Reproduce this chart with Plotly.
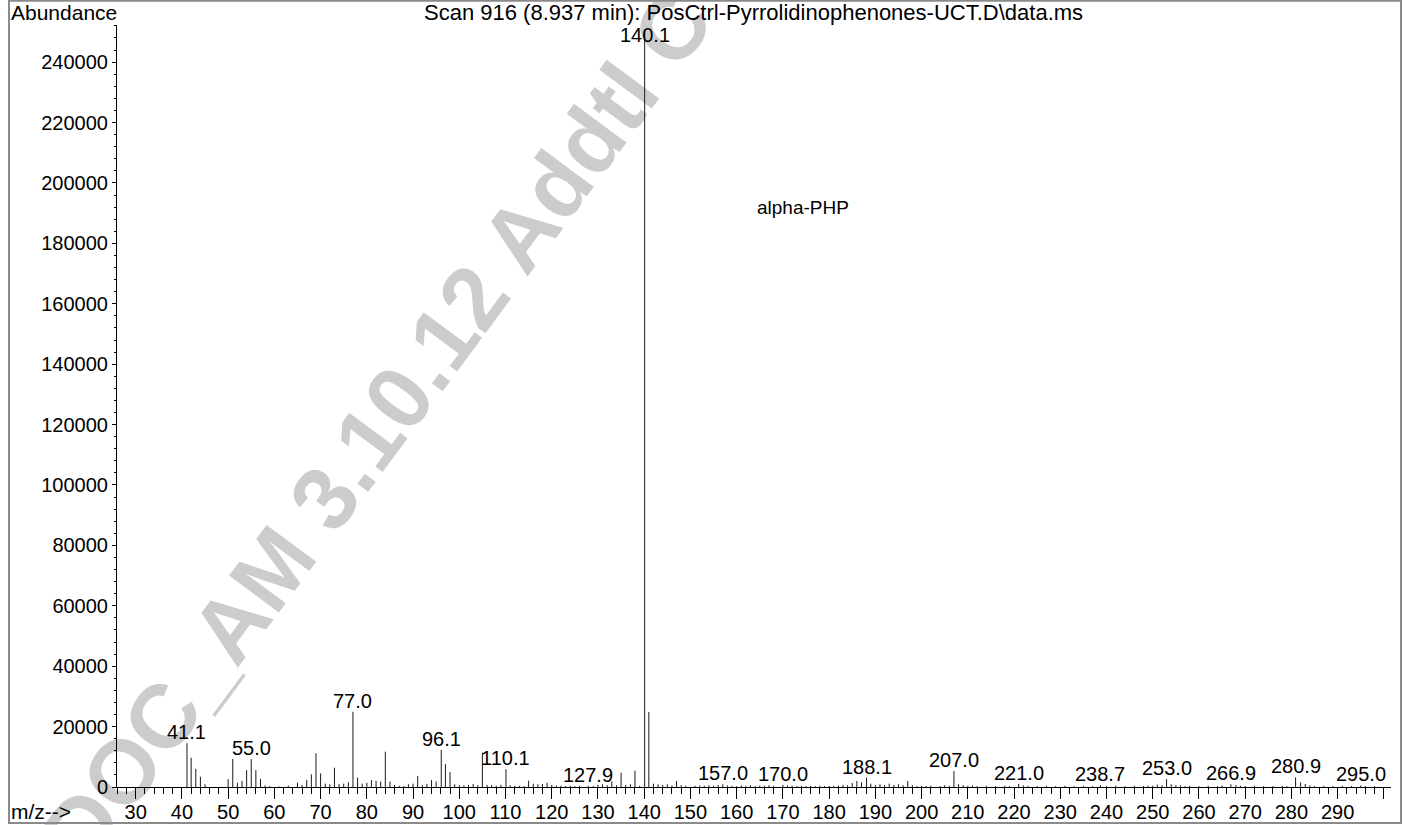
import plotly.graph_objects as go

# ---------------- data ----------------
mz = [41.1, 42, 43, 44, 45, 50, 51, 52, 53, 54, 55.0, 56, 57, 58, 59, 61, 63, 65, 66, 67,
      68, 69, 70, 71, 72, 73, 74, 75, 76, 77.0, 78, 79, 80, 81, 82, 83, 84, 85, 86, 87,
      88, 89, 90, 91, 92, 93, 94, 95, 96.1, 97, 98, 99, 100, 101, 102, 103, 104, 105, 106, 107,
      108, 109, 110.1, 111, 112, 113, 114, 115, 116, 117, 118, 119, 120, 121, 122, 123, 124, 125, 126, 127.9,
      129, 130, 131, 132, 133, 134, 135, 136, 137, 138, 139, 140.1, 141, 142, 143, 144, 145, 146, 147, 148,
      149, 151, 152, 153, 154, 155, 156, 157.0, 158, 159, 160, 161, 162, 163, 164, 165, 166, 167, 168, 170.0,
      171, 172, 173, 174, 175, 176, 177, 178, 179, 180, 181, 182, 183, 184, 185, 186, 187, 188.1, 189, 190,
      191, 192, 193, 194, 195, 196, 197, 198, 199, 200, 201, 202, 204, 205, 206, 207.0, 208, 209, 210, 211,
      212, 214, 216, 218, 219, 221.0, 222, 223, 225, 227, 229, 231, 233, 235, 237, 238.7, 240, 242, 244, 246,
      248, 249, 250, 251, 252, 253.0, 254, 255, 256, 257, 258, 260, 262, 264, 265, 266.9, 268, 269, 270, 272,
      274, 276, 278, 279, 280.9, 282, 283, 284, 285, 287, 289, 291, 293, 295.0, 296, 298]
abundance = [14500, 9700, 6000, 3400, 900, 2600, 9300, 1400, 2000, 5600, 9200, 5600, 2700, 500, 300, 200, 500, 1400, 700, 2300,
             4200, 11200, 4500, 1100, 900, 6400, 1000, 1100, 1600, 24900, 3100, 1100, 1400, 2300, 2000, 1800, 11700, 1800, 700, 400,
             300, 900, 1100, 3600, 700, 1000, 2300, 1800, 12300, 7600, 4900, 900, 600, 500, 700, 1000, 600, 11400, 700, 700,
             400, 700, 5900, 600, 400, 400, 300, 2100, 1100, 900, 1000, 1400, 700, 500, 400, 300, 400, 300, 400, 400,
             300, 700, 900, 600, 1900, 600, 4700, 700, 900, 5400, 400, 250500, 24800, 1100, 900, 700, 900, 500, 2000, 600,
             400, 400, 500, 400, 600, 400, 700, 900, 500, 400, 300, 500, 300, 600, 300, 500, 400, 600, 400, 700,
             500, 400, 300, 400, 300, 400, 300, 400, 300, 300, 400, 500, 700, 600, 1300, 2000, 1600, 3100, 1100, 600,
             900, 700, 1100, 700, 900, 600, 2000, 600, 300, 400, 300, 400, 300, 600, 400, 5300, 900, 600, 400, 500,
             300, 400, 300, 400, 300, 1000, 500, 400, 300, 400, 300, 400, 300, 400, 300, 600, 300, 500, 300, 400,
             300, 500, 400, 800, 600, 2600, 900, 600, 500, 300, 400, 300, 400, 300, 500, 900, 600, 400, 300, 400,
             300, 300, 400, 300, 3200, 1500, 1000, 500, 300, 400, 300, 400, 300, 500, 300, 300]
label_mz = [41.1, 55.0, 77.0, 96.1, 110.1, 127.9, 140.1, 157.0, 170.0, 188.1, 207.0,
            221.0, 238.7, 253.0, 266.9, 280.9, 295.0]
x_tick_vals = [30, 40, 50, 60, 70, 80, 90, 100, 110, 120, 130, 140, 150, 160, 170, 180,
               190, 200, 210, 220, 230, 240, 250, 260, 270, 280, 290, 300]
x_tick_text = ["30", "40", "50", "60", "70", "80", "90", "100", "110", "120", "130", "140", "150",
               "160", "170", "180", "190", "200", "210", "220", "230", "240", "250", "260", "270",
               "280", "290", ""]
y_tick_vals = [0, 20000, 40000, 60000, 80000, 100000, 120000, 140000, 160000, 180000,
               200000, 220000, 240000]
title_text = "Scan 916 (8.937 min): PosCtrl-Pyrrolidinophenones-UCT.D\\data.ms"
compound_name = "alpha-PHP"
watermark_text = "DOC_AM 3.10.12 Addtl C"

# ---------------- layout geometry ----------------
W, H = 1405, 825
L, R, T, B = 117, 1391, 25, 787
X_RANGE = [25.96, 301.54]
Y_MAX = 252300
FONT = "Liberation Sans, Arial, Helvetica, sans-serif"


def px(p):
    return (p - L) / (R - L)


def py(p):
    return (B - p) / (B - T)


# stick spectrum
xs, ys = [], []
for m, v in zip(mz, abundance):
    xs += [m, m, None]
    ys += [0, v, None]

fig = go.Figure()
fig.add_trace(go.Scatter(x=xs, y=ys, mode="lines",
                         line=dict(color="#1a1a1a", width=1),
                         hoverinfo="skip", showlegend=False))

annotations = []
lookup = dict(zip(mz, abundance))
for m in label_mz:
    v = lookup[m]
    if v > 0.95 * Y_MAX:
        annotations.append(dict(x=m, y=Y_MAX, xref="x", yref="y", text=f"{m:.1f}",
                                showarrow=False, yanchor="top", xanchor="center",
                                yshift=2, borderpad=0,
                                font=dict(family=FONT, size=20, color="black")))
    else:
        annotations.append(dict(x=m, y=v, xref="x", yref="y", text=f"{m:.1f}",
                                showarrow=False, yanchor="bottom", xanchor="center",
                                yshift=-1, borderpad=0,
                                font=dict(family=FONT, size=20, color="black")))

annotations.append(dict(x=164.0, y=192000, xref="x", yref="y", text=compound_name,
                        showarrow=False, xanchor="left", yanchor="middle",
                        font=dict(family=FONT, size=19, color="black")))
annotations.append(dict(x=px(753), y=py(12), xref="paper", yref="paper", text=title_text,
                        showarrow=False, xanchor="center", yanchor="middle", borderpad=0,
                        font=dict(family=FONT, size=22, color="black")))
annotations.append(dict(x=px(10), y=py(12), xref="paper", yref="paper", text="Abundance",
                        showarrow=False, xanchor="left", yanchor="middle", borderpad=0,
                        font=dict(family=FONT, size=21, color="black")))
annotations.append(dict(x=px(10), y=py(811), xref="paper", yref="paper", text="m/z-->",
                        showarrow=False, xanchor="left", yanchor="middle", borderpad=0,
                        font=dict(family=FONT, size=21, color="black")))

shapes = [
    # watermark (behind the spectrum)
    dict(type="rect", xref="paper", yref="paper",
         x0=px(360), x1=px(380), y0=py(432), y1=py(412),
         line=dict(width=0), fillcolor="rgba(0,0,0,0)", layer="below",
         label=dict(text=watermark_text, textangle=-53.5, textposition="middle center",
                    font=dict(family=FONT, size=90, color="#cccccc", weight="bold"))),
    # outer frame
    dict(type="rect", xref="paper", yref="paper",
         x0=px(9), x1=px(1401), y0=py(823), y1=py(0.8),
         line=dict(width=2, color="#8a8a8a"), fillcolor="rgba(0,0,0,0)", layer="above"),
]

fig.update_layout(
    width=W, height=H,
    margin=dict(l=L, r=W - R, t=T, b=H - B, pad=0, autoexpand=False),
    paper_bgcolor="white", plot_bgcolor="rgba(0,0,0,0)",
    showlegend=False,
    annotations=annotations, shapes=shapes,
    font=dict(family=FONT, size=20, color="black"),
    xaxis=dict(range=X_RANGE, showgrid=False, zeroline=False, automargin=False,
               showline=True, linecolor="black", linewidth=1,
               tickmode="array", tickvals=x_tick_vals, ticktext=x_tick_text,
               ticks="outside", ticklen=11, tickwidth=1, tickcolor="black",
               ticklabelstandoff=-4,
               tickfont=dict(family=FONT, size=20, color="black"),
               minor=dict(tickmode="linear", tick0=0, dtick=2, ticks="outside",
                          ticklen=6, tickwidth=1, tickcolor="black", showgrid=False)),
    yaxis=dict(range=[0, Y_MAX], showgrid=False, zeroline=False, automargin=False,
               showline=True, linecolor="black", linewidth=1,
               tickmode="array", tickvals=y_tick_vals, tickformat="d",
               ticks="outside", ticklen=4, tickwidth=1, tickcolor="black",
               tickfont=dict(family=FONT, size=20, color="black"),
               minor=dict(tickmode="linear", tick0=0, dtick=4000, ticks="outside",
                          ticklen=2, tickwidth=1, tickcolor="black", showgrid=False)),
)

fig.write_html("out.html", config={"displayModeBar": False},
               post_script="document.body.style.margin='0';document.body.style.overflow='hidden';")
